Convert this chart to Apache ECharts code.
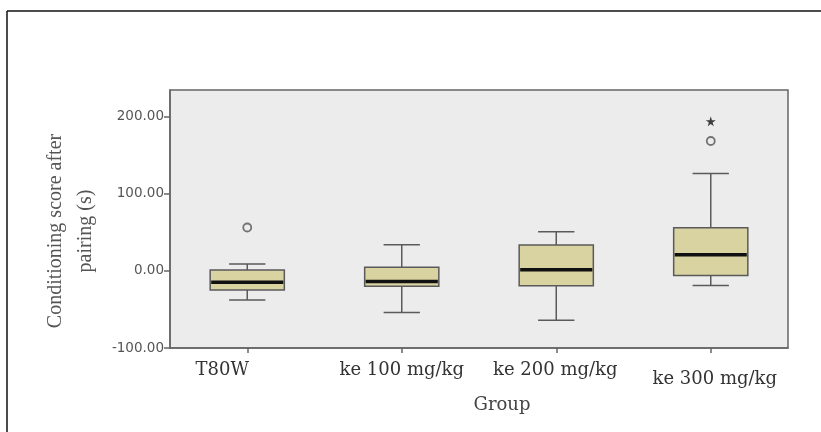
<!DOCTYPE html>
<html>
<head>
<meta charset="utf-8">
<script src="https://cdn.jsdelivr.net/npm/echarts@6/dist/echarts.min.js"></script>
<style>
html,body{margin:0;padding:0;background:#fff;}
#chart{width:821px;height:432px;}
</style>
</head>
<body>
<div id="chart"></div>
<script>
// ---- data ----
const categories = ['T80W', 'ke 100 mg/kg', 'ke 200 mg/kg', 'ke 300 mg/kg'];
const whiskerLow  = [-38, -54, -64, -19];
const q1          = [-25, -20, -19.5, -6];
const median      = [-15, -14, 1.3, 20.7];
const q3          = [0.9, 4.4, 33.3, 55.7];
const whiskerHigh = [8.7, 33.7, 50.5, 126];
const outlierCircleCat = ['T80W', 'ke 300 mg/kg'];
const outlierCircleVal = [56, 168];
const extremeStarCat = ['ke 300 mg/kg'];
const extremeStarVal = [193.5];
const yTicks = [-100, 0, 100, 200];
const yMin = -100, yMax = 234;

// ---- chart ----
const chart = echarts.init(document.getElementById('chart'), null, {renderer: 'canvas'});

const boxData = categories.map((c, i) => [i, whiskerLow[i], q1[i], median[i], q3[i], whiskerHigh[i]]);
const labelPad = [[0, 50, 0, 0], [0, 0, 0, 0], [0, 2, 0, 0], [9, 0, 0, 8]];

function renderBox(params, api) {
  const x = api.value(0);
  const pLo = api.coord([x, api.value(1)]);
  const pQ1 = api.coord([x, api.value(2)]);
  const pMed = api.coord([x, api.value(3)]);
  const pQ3 = api.coord([x, api.value(4)]);
  const pHi = api.coord([x, api.value(5)]);
  const band = api.size([1, 0])[0];
  const bw = band * 0.48;
  const cw = band * 0.235;
  const cx = pMed[0];
  const stroke = '#5a5a5a';
  return {
    type: 'group',
    children: [
      {type: 'line', shape: {x1: cx, y1: pHi[1], x2: cx, y2: pQ3[1]}, style: {stroke: stroke, lineWidth: 1.5}},
      {type: 'line', shape: {x1: cx, y1: pQ1[1], x2: cx, y2: pLo[1]}, style: {stroke: stroke, lineWidth: 1.5}},
      {type: 'line', shape: {x1: cx - cw / 2, y1: pHi[1], x2: cx + cw / 2, y2: pHi[1]}, style: {stroke: stroke, lineWidth: 1.5}},
      {type: 'line', shape: {x1: cx - cw / 2, y1: pLo[1], x2: cx + cw / 2, y2: pLo[1]}, style: {stroke: stroke, lineWidth: 1.5}},
      {type: 'rect', shape: {x: cx - bw / 2, y: pQ3[1], width: bw, height: pQ1[1] - pQ3[1]},
        style: {fill: '#d8d3a0', stroke: stroke, lineWidth: 1.5}},
      {type: 'line', shape: {x1: cx - bw / 2 + 1, y1: pMed[1], x2: cx + bw / 2 - 1, y2: pMed[1]},
        style: {stroke: '#111', lineWidth: 3.5}}
    ]
  };
}

const starPath = 'path://M50,0 L61,35 L98,35 L68,57 L79,91 L50,70 L21,91 L32,57 L2,35 L39,35 Z';

const option = {
  animation: false,
  backgroundColor: '#ffffff',
  graphic: [
    {type: 'line', shape: {x1: 7, y1: 11, x2: 821, y2: 11}, style: {stroke: '#111', lineWidth: 1.5}},
    {type: 'line', shape: {x1: 7, y1: 11, x2: 7, y2: 432}, style: {stroke: '#111', lineWidth: 1.5}}
  ],
  grid: {
    left: 170, top: 90, right: 33, bottom: 84,
    show: true, backgroundColor: '#ececec', borderColor: '#666', borderWidth: 1.5
  },
  xAxis: {
    type: 'category',
    data: categories.map((c, i) => ({value: c, textStyle: {padding: labelPad[i]}})),
    boundaryGap: true,
    axisLine: {show: true, onZero: false, lineStyle: {color: '#666', width: 1.5}},
    axisTick: {show: true, alignWithLabel: true, length: 5, lineStyle: {color: '#666', width: 1.5}},
    axisLabel: {margin: 13, fontFamily: 'DejaVu Serif', fontSize: 18, color: '#333', interval: 0},
    splitLine: {show: false},
    name: 'Group',
    nameLocation: 'middle',
    nameGap: 48,
    nameTextStyle: {fontFamily: 'DejaVu Serif', fontSize: 18, color: '#444', padding: [0, 0, 0, 46]}
  },
  yAxis: {
    type: 'value',
    min: yMin, max: yMax,
    axisLine: {show: true, lineStyle: {color: '#666', width: 1.5}},
    axisTick: {show: true, length: 6, customValues: yTicks, lineStyle: {color: '#666', width: 1.5}},
    axisLabel: {
      customValues: yTicks, margin: 6,
      fontFamily: 'DejaVu Sans', fontSize: 13.5, color: '#555',
      formatter: v => v.toFixed(2)
    },
    splitLine: {show: false},
    name: 'Conditioning score after\npairing (s)',
    nameLocation: 'middle',
    nameGap: 66,
    nameTextStyle: {fontFamily: 'Liberation Serif', fontSize: 20, lineHeight: 30, color: '#555', align: 'center', padding: [0, 24, 0, 0]}
  },
  series: [
    {
      type: 'custom',
      renderItem: renderBox,
      encode: {x: 0, y: [1, 2, 3, 4, 5]},
      data: boxData,
      z: 2
    },
    {
      type: 'scatter',
      symbol: 'circle',
      symbolSize: 8,
      itemStyle: {color: 'transparent', borderColor: '#555', borderWidth: 1.8},
      data: outlierCircleCat.map((c, i) => [c, outlierCircleVal[i]]),
      z: 3
    },
    {
      type: 'scatter',
      symbol: starPath,
      symbolSize: 10,
      itemStyle: {color: '#111'},
      data: extremeStarCat.map((c, i) => [c, extremeStarVal[i]]),
      z: 3
    }
  ]
};
chart.setOption(option);
</script>
</body>
</html>
